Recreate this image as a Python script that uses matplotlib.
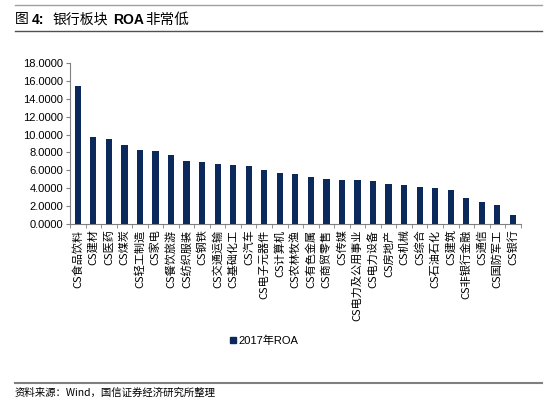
import matplotlib
matplotlib.use("Agg")
import matplotlib.pyplot as plt
from matplotlib.lines import Line2D
import numpy as np

plt.rcParams['font.family'] = ['Noto Sans CJK SC', 'DejaVu Sans']

categories = ["CS食品饮料", "CS建材", "CS医药", "CS煤炭", "CS轻工制造", "CS家电",
              "CS餐饮旅游", "CS纺织服装", "CS钢铁", "CS交通运输", "CS基础化工", "CS汽车",
              "CS电子元器件", "CS计算机", "CS农林牧渔", "CS有色金属", "CS商贸零售", "CS传媒",
              "CS电力及公用事业", "CS电力设备", "CS房地产", "CS机械", "CS综合", "CS石油石化",
              "CS建筑", "CS非银行金融", "CS通信", "CS国防军工", "CS银行"]
roa_2017 = [15.43, 9.74, 9.48, 8.84, 8.28, 8.20, 7.68, 7.04, 6.97, 6.70, 6.59, 6.48,
            6.03, 5.73, 5.58, 5.28, 5.06, 4.94, 4.94, 4.76, 4.49, 4.31, 4.16, 4.01,
            3.75, 2.96, 2.47, 2.13, 0.97]
series_name = "2017年ROA"
yticks = [0, 2, 4, 6, 8, 10, 12, 14, 16, 18]

bar_color = "#0b2a5b"
axis_color = "#808080"

W, H = 550, 403
fig = plt.figure(figsize=(5.5, 4.03), dpi=100)
ax = fig.add_axes([70 / W, 0.4442, (520.7 - 70) / W, 0.3995])

x = np.arange(len(categories))
ax.bar(x, roa_2017, width=0.4, color=bar_color, zorder=3)
ax.set_xlim(-0.5, len(categories) - 0.5)
ax.set_ylim(0, 18)
ax.set_yticks(yticks)
ax.set_yticklabels([f"{v:.4f}" for v in yticks], fontsize=8,
                   family=['Liberation Sans', 'DejaVu Sans'])

ax.set_xticks(x)
ax.set_xticklabels(categories, rotation=90, fontsize=8, va='top', ha='center')
ax.tick_params(axis='x', length=0, pad=4)
ax.set_xticks(np.arange(-0.5, len(categories), 1), minor=True)
ax.tick_params(axis='x', which='minor', length=3, color=axis_color, direction='out')
ax.tick_params(axis='y', length=3, color=axis_color, direction='out', pad=2)

for s in ['top', 'right']:
    ax.spines[s].set_visible(False)
for s in ['left', 'bottom']:
    ax.spines[s].set_color(axis_color)
    ax.spines[s].set_linewidth(0.8)

# legend
handle = Line2D([], [], marker='s', linestyle='none', markersize=5, color=bar_color)
fig.legend([handle], [series_name], loc='center', bbox_to_anchor=(263 / W, 0.1546),
           frameon=False, handletextpad=0.1, handlelength=0.8,
           prop={'family': ['Liberation Sans', 'Noto Sans CJK SC'], 'size': 8})

# title and decorative lines
fig.add_artist(Line2D([15 / W, 542 / W], [1 - 5 / H, 1 - 5 / H], color='#a0a0a0', lw=1.0))
fig.add_artist(Line2D([15 / W, 542 / W], [1 - 30.7 / H, 1 - 30.7 / H], color='#505050', lw=1.0))
ty = 1 - 19.5 / H
fig.text(15 / W, ty, "图", fontsize=10, va='center', ha='left')
fig.text(32 / W, ty, "4:", fontsize=10, fontweight='bold', va='center', ha='left',
         family=['Liberation Sans', 'DejaVu Sans'])
fig.text(53 / W, ty, "银行板块", fontsize=10, va='center', ha='left')
fig.text(113 / W, ty, "ROA", fontsize=10, fontweight='bold', va='center', ha='left',
         family=['Liberation Sans', 'DejaVu Sans'])
fig.text(145 / W, ty, "非常低", fontsize=10.5, va='center', ha='left')

fig.add_artist(Line2D([15 / W, 542 / W], [1 - 383.3 / H, 1 - 383.3 / H], color='#808080', lw=1.5))
fig.text(15 / W, 1 - 393 / H, "资料来源：Wind，国信证券经济研究所整理", fontsize=7.5, va='center', ha='left')

fig.savefig("out.png", dpi=100)
